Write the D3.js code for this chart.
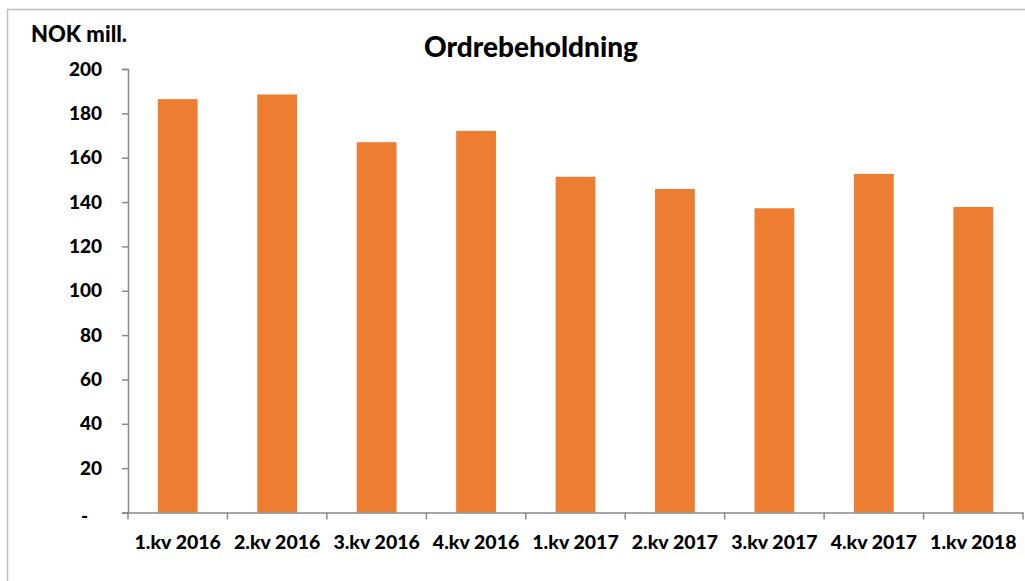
<!DOCTYPE html>
<html><head><meta charset="utf-8">
<script src="https://cdn.jsdelivr.net/npm/d3@7"></script>
<style>body{margin:0;background:#fff}svg{display:block}text{font-family:Lato,"Open Sans",sans-serif;font-weight:900;fill:#000}</style>
</head><body><svg id="c" width="1025" height="581"></svg>
<script>
const categories = ["1.kv 2016","2.kv 2016","3.kv 2016","4.kv 2016","1.kv 2017","2.kv 2017","3.kv 2017","4.kv 2017","1.kv 2018"];
const values = [186.4, 188.5, 167.0, 172.1, 151.4, 145.9, 137.2, 152.7, 137.8];
const yTicks = [0,20,40,60,80,100,120,140,160,180,200];
const title = "Ordrebeholdning";
const yLabel = "NOK mill.";

const svg = d3.select("#c");
svg.append("rect").attr("x",7.5).attr("y",9.5).attr("width",1030).attr("height",600)
  .attr("fill","#fff").attr("stroke","#bfbfbf").attr("stroke-width",1.5);

const x = d3.scaleBand().domain(categories).range([128,1023]).paddingInner(0.6).paddingOuter(0.3);
const y = d3.scaleLinear().domain([0,200]).range([512.5,69]);

svg.append("g").selectAll("rect").data(values).join("rect")
  .attr("x",(d,i)=>x(categories[i])).attr("width",x.bandwidth())
  .attr("y",d=>y(d)).attr("height",d=>y(0)-y(d)).attr("fill","#ED7D31");

const ya = svg.append("g").attr("transform","translate(128,0)")
  .call(d3.axisLeft(y).tickValues(yTicks).tickSize(6).tickPadding(20).tickFormat(d=>d===0?"-":d));
ya.select(".domain").attr("stroke","#898989").attr("stroke-width",1.5);
ya.selectAll(".tick line").attr("stroke","#898989").attr("stroke-width",1.5);
ya.selectAll("text").style("font-size","19px").attr("fill","#000");
ya.selectAll(".tick").filter(d=>d===0).select("text").attr("dx",-14).attr("dy","0.5em");

const xScaleTicks = d3.scaleBand().domain(categories).range([128,1023]);
const xa = svg.append("g").attr("transform","translate(0,512.5)")
  .call(d3.axisBottom(xScaleTicks).tickSize(0).tickPadding(23).tickSizeOuter(0));
xa.select(".domain").attr("stroke","#898989").attr("stroke-width",1.5);
xa.selectAll("text").style("font-size","19.5px").attr("fill","#000");
const edges = categories.map(c=>xScaleTicks(c)).concat([1023]);
xa.selectAll(".edge").data(edges).join("line").attr("class","edge")
  .attr("x1",d=>d).attr("x2",d=>d).attr("y1",0).attr("y2",7)
  .attr("stroke","#898989").attr("stroke-width",1.5);

svg.append("text").attr("x",531).attr("y",57).attr("text-anchor","middle")
  .style("font-size","28px").text(title);
svg.append("text").attr("x",31).attr("y",42).style("font-size","22px").text(yLabel);
</script></body></html>
